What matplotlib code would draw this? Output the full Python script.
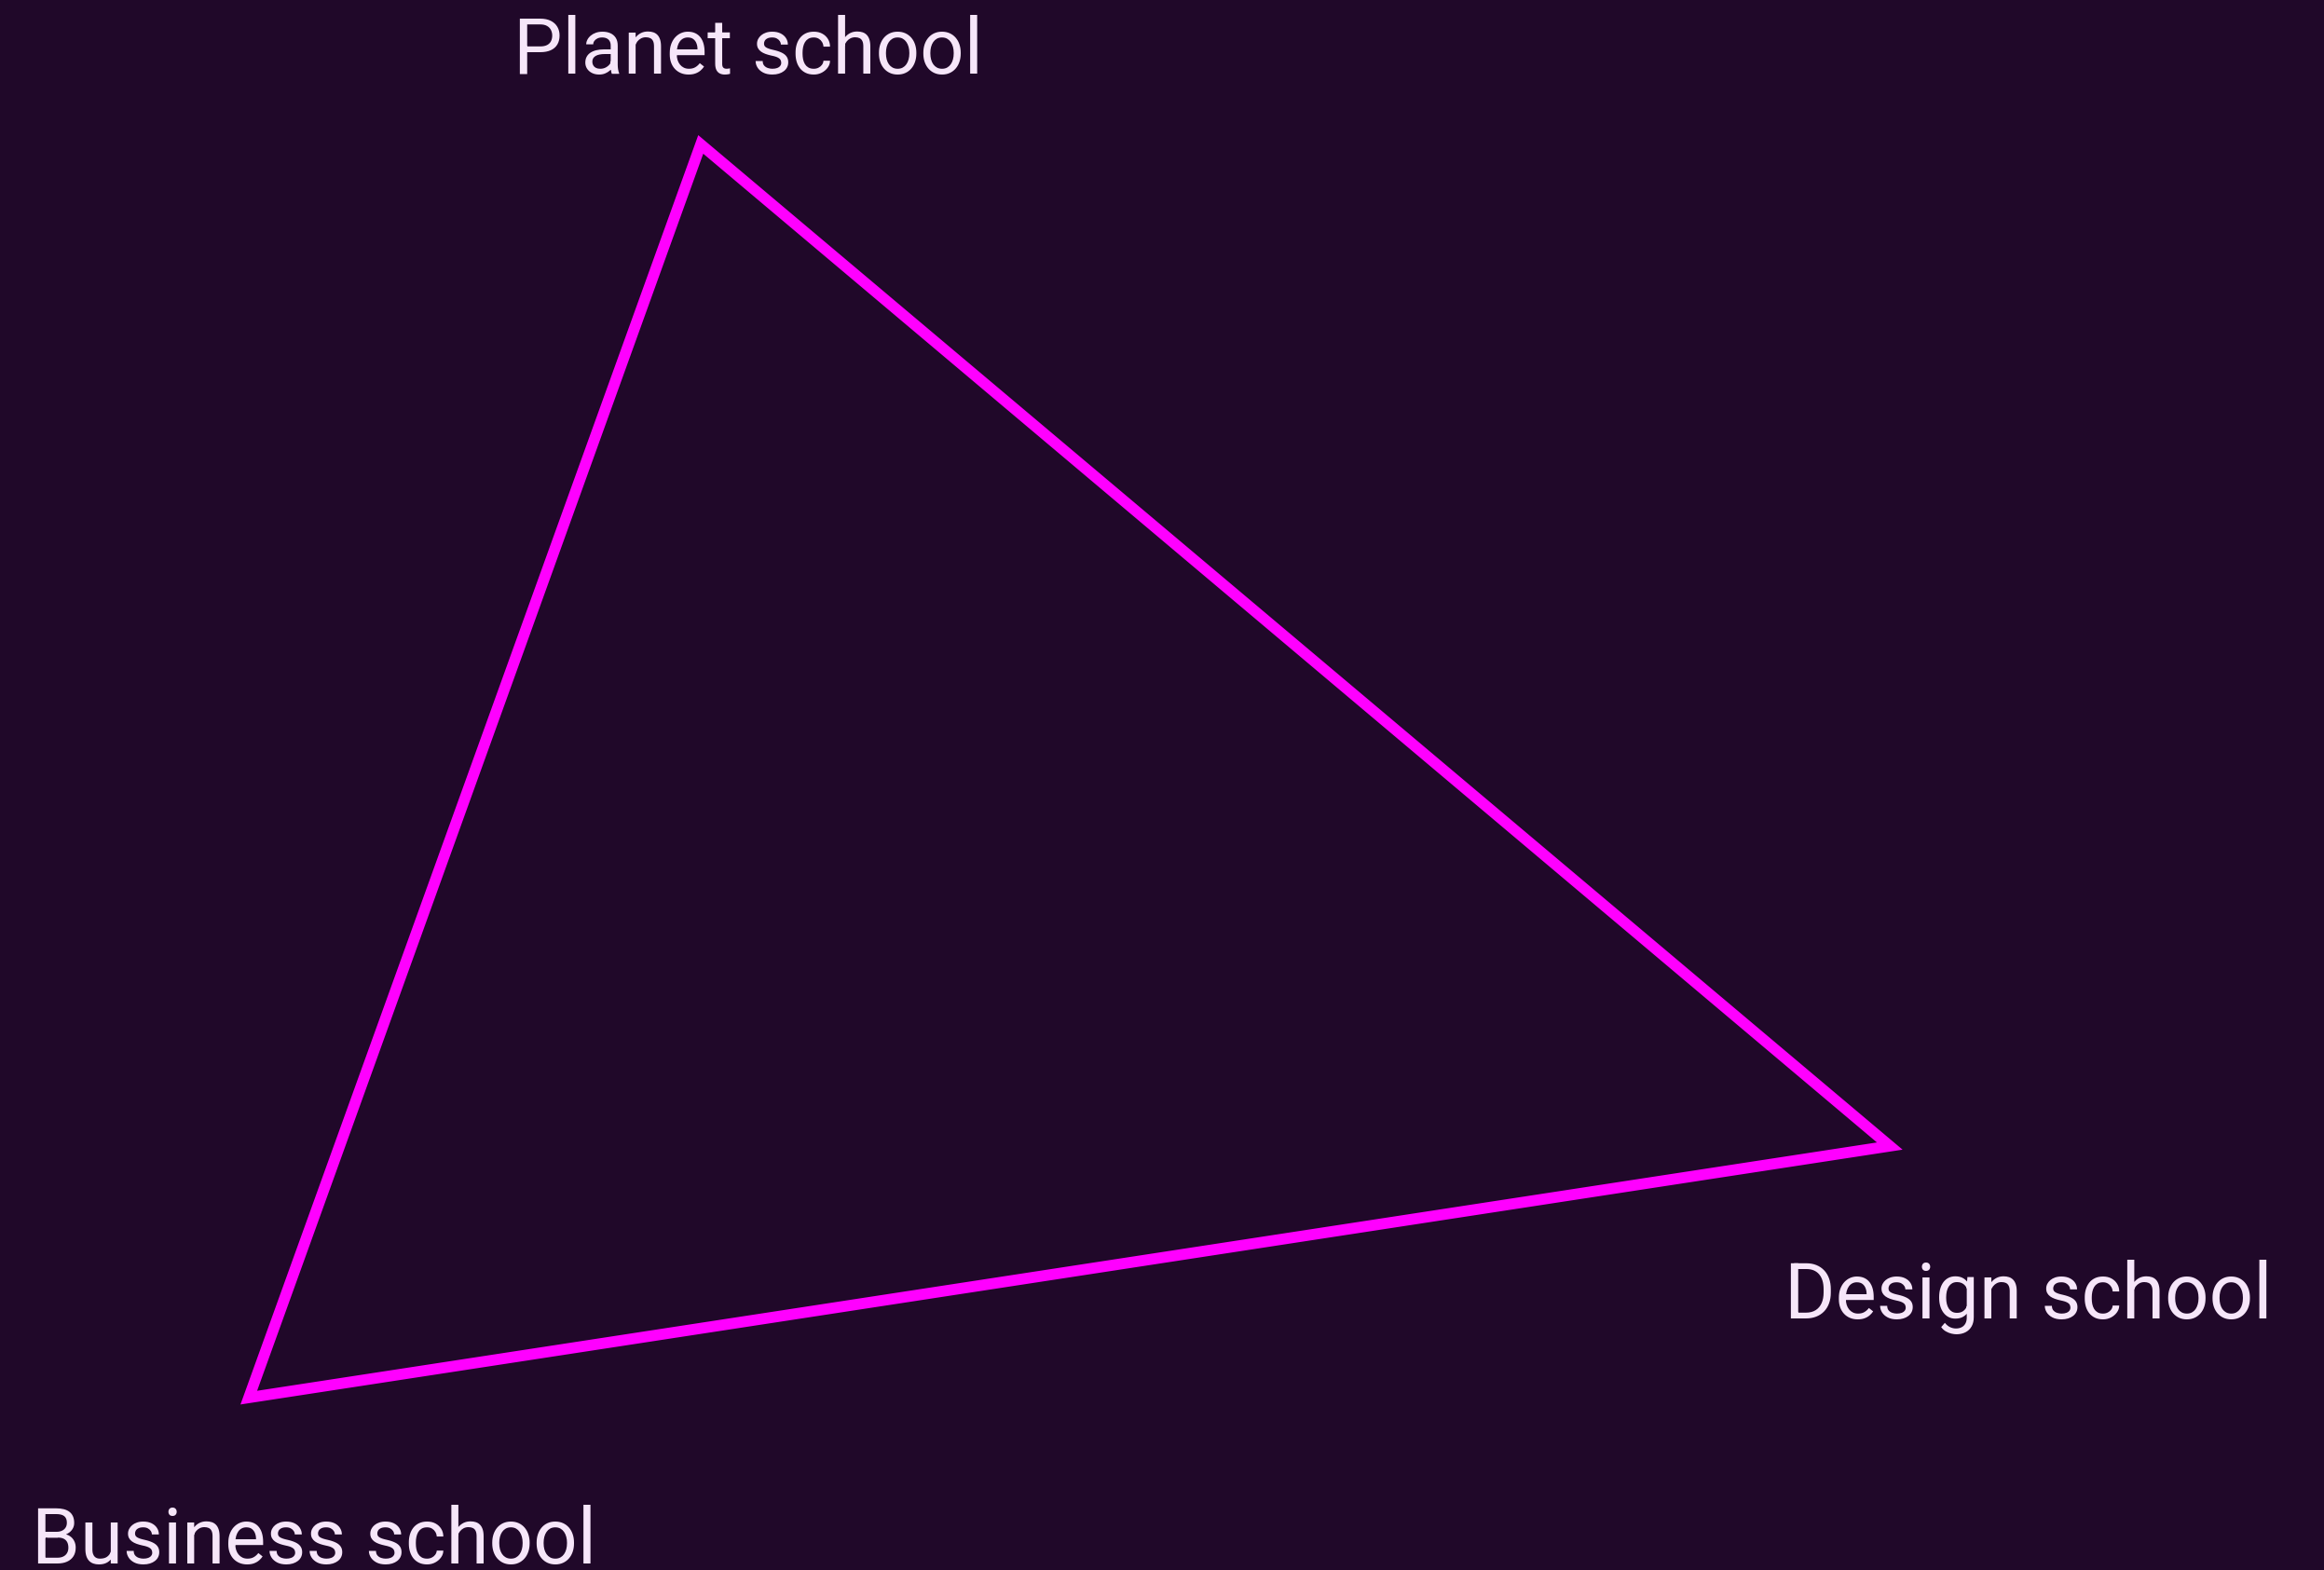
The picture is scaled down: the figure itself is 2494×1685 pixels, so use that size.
import matplotlib
matplotlib.use("Agg")
import matplotlib.pyplot as plt

BG = "#200829"
LINE = "#ff00ff"
INK = "#f6e6f9"

# triangle vertices (data units, y grows downward)
schools = ["Planet school", "Design school", "Business school"]
vx = [7.52, 20.28, 2.67]
vy = [1.55, 12.30, 15.00]

# label offsets from each vertex, in pixels
offsets = [(51, 76), (149, -185), (70, -178)]

fig = plt.figure(figsize=(24.94, 16.85), dpi=100, facecolor=BG)
ax = fig.add_axes([0, 0, 1, 1])
ax.set_facecolor(BG)
ax.set_xlim(0, 24.94)
ax.set_ylim(16.85, 0)
ax.axis("off")

# closed outline so every corner gets a mitred join
ax.fill(vx, vy, fill=False, edgecolor=LINE, lw=8.5, joinstyle="miter")

for name, x, y, off in zip(schools, vx, vy, offsets):
    ax.annotate(name, xy=(x, y), xytext=off, textcoords="offset pixels",
                ha="center", va="baseline", color=INK, fontsize=60,
                family="Roboto")

fig.savefig("out.png", dpi=100, facecolor=BG)
